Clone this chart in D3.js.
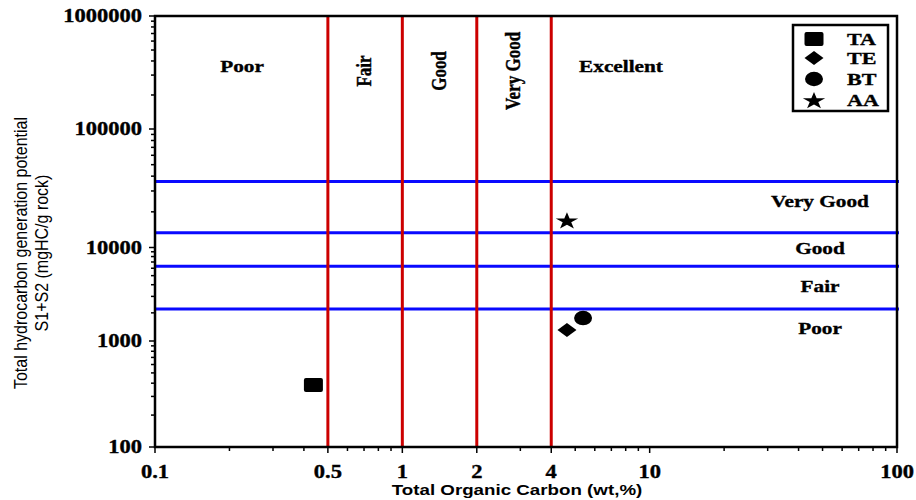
<!DOCTYPE html>
<html>
<head>
<meta charset="utf-8">
<script src="https://cdn.jsdelivr.net/npm/d3@7"></script>
<style>
  html, body { margin: 0; padding: 0; background: #fff; }
  svg { display: block; }
  .serif { font-family: "Liberation Serif", "Times New Roman", serif; font-weight: bold; fill: #000; stroke: #000; stroke-width: 0.35; }
  .sans { font-family: "Liberation Sans", Arial, sans-serif; fill: #000; }
</style>
</head>
<body>
<svg id="chart" width="916" height="500"></svg>
<script>
// x axis: total organic carbon (wt %)
var xDomain = [0.1, 100];
var xTickLabels = [0.1, 0.5, 1, 2, 4, 10, 100];
var tocLimits = [0.5, 1, 2, 4];
var tocClasses = ['Poor', 'Fair', 'Good', 'Very Good', 'Excellent'];

// y axis: S1+S2 (the printed axis is not an even log scale, so each decade gets its own stop)
var yTickLabels = [100, 1000, 10000, 100000, 1000000];
var potentialLimits = [2200, 6300, 13300, 36000];
var potentialClasses = ['Poor', 'Fair', 'Good', 'Very Good'];

// samples
var sampleNames = ['TA', 'TE', 'BT', 'AA'];
var sampleToc = [0.437, 4.63, 5.38, 4.63];
var samplePotential = [385, 1310, 1760, 17000];
var sampleShapes = ['square', 'diamond', 'circle', 'star'];

var plotLeft = 155;
var plotRight = 897;
var plotTop = 16;
var plotBottom = 447;
// the scanned figure is stretched sideways, glyphs follow that
var stretch = 1.25;

var svg = d3.select('#chart');

var x = d3.scaleLog().domain(xDomain).range([plotLeft, plotRight]);
var y = d3.scaleLog().domain(yTickLabels).range([plotBottom, 341, 247.5, 129, plotTop]);


/**
 * Draws one marker shape centred at the origin of the given group.
 * @param {d3.Selection} g
 * @param {string} shape
 */
function drawShape(g, shape) {
  if (shape === 'square') {
    g.append('rect').attr('x', -9.5).attr('y', -7).attr('width', 19).attr('height', 14).attr('rx', 2);
  } else if (shape === 'diamond') {
    g.append('path').attr('d', 'M0,-7L9.5,0L0,7L-9.5,0Z');
  } else if (shape === 'circle') {
    g.append('ellipse').attr('rx', 9).attr('ry', 7.2);
  } else {
    g.append('path').
        attr('d', d3.symbol().type(d3.symbolStar).size(92)()).
        attr('transform', 'translate(0,1) scale(1.3,1)');
  }
  g.attr('fill', '#000');
}


/**
 * Adds stretched serif text.
 */
function serifText(px, py, str, size, anchor, rotate) {
  return svg.append('text').
      attr('class', 'serif').
      attr('transform', 'translate(' + px + ',' + py + ') scale(' + stretch + ',1)' + (rotate ? ' rotate(-90)' : '')).
      attr('text-anchor', anchor || 'middle').
      attr('font-size', size).
      text(str);
}

// ----- threshold lines -----
svg.append('g').selectAll('line').data(potentialLimits).join('line').
    attr('x1', plotLeft).attr('x2', plotRight + 2).
    attr('y1', function(d) { return y(d); }).attr('y2', function(d) { return y(d); }).
    attr('stroke', '#0a0aff').attr('stroke-width', 3);

svg.append('g').selectAll('line').data(tocLimits).join('line').
    attr('x1', function(d) { return x(d); }).attr('x2', function(d) { return x(d); }).
    attr('y1', plotTop).attr('y2', plotBottom).
    attr('stroke', '#cc0000').attr('stroke-width', 3);

// ----- frame and ticks -----
svg.append('rect').
    attr('x', plotLeft).attr('y', plotTop).attr('width', plotRight - plotLeft).attr('height', plotBottom - plotTop).
    attr('fill', 'none').attr('stroke', '#000').attr('stroke-width', 2.5);

var xTicks = x.ticks();
svg.append('g').selectAll('line').data(xTicks).join('line').
    attr('x1', function(d) { return x(d); }).attr('x2', function(d) { return x(d); }).
    attr('y1', plotBottom).
    attr('y2', function(d) { return plotBottom + (xTickLabels.indexOf(d) >= 0 ? 6 : 4); }).
    attr('stroke', '#000').attr('stroke-width', 1.5);

var yTicks = [];
yTickLabels.forEach(function(v, i) {
  yTicks.push(v);
  if (i < yTickLabels.length - 1) {
    for (var k = 2; k < 10; k++) {
      yTicks.push(v * k);
    }
  }
});
svg.append('g').selectAll('line').data(yTicks).join('line').
    attr('x1', function(d) { return plotLeft - (yTickLabels.indexOf(d) >= 0 ? 6 : 4); }).attr('x2', plotLeft).
    attr('y1', function(d) { return y(d); }).attr('y2', function(d) { return y(d); }).
    attr('stroke', '#000').attr('stroke-width', 1.5);

// tick labels
xTickLabels.forEach(function(d) {
  serifText(x(d), 478, String(d), 18, 'middle');
});
yTickLabels.forEach(function(d) {
  serifText(142, y(d) + 6, String(d), 18, 'end');
});

// ----- class labels -----
var tocEdges = [xDomain[0]].concat(tocLimits);
tocClasses.forEach(function(name, i) {
  var cx = i === 0 ? 242 : i === tocClasses.length - 1 ? 621 : (x(tocEdges[i]) + x(tocEdges[i + 1])) / 2 + 6;
  if (i === 0 || i === tocClasses.length - 1) {
    serifText(cx, 72, name, 17, 'middle');
  } else {
    serifText(cx, 71, name, 17, 'middle', true);
  }
});

var potentialEdges = [1000].concat(potentialLimits);
potentialClasses.forEach(function(name, i) {
  var mid = (y(potentialEdges[i]) + y(potentialEdges[i + 1])) / 2;
  var offs = [9.5, 4, 4, -0.5][i];
  serifText(820, mid + offs, name, 17, 'middle');
});

// ----- samples -----
sampleNames.forEach(function(name, i) {
  var g = svg.append('g').attr('transform', 'translate(' + x(sampleToc[i]) + ',' + y(samplePotential[i]) + ')');
  drawShape(g, sampleShapes[i]);
});

// ----- legend -----
var legend = svg.append('g').attr('transform', 'translate(793,25)');
legend.append('rect').attr('width', 95).attr('height', 86).
    attr('fill', '#fff').attr('stroke', '#000').attr('stroke-width', 2.5);
sampleNames.forEach(function(name, i) {
  var ry = [14, 33, 54, 75][i];
  var g = legend.append('g').attr('transform', 'translate(21,' + ry + ')');
  drawShape(g, sampleShapes[i]);
  legend.append('text').
      attr('class', 'serif').
      attr('transform', 'translate(54,' + (ry + 6) + ') scale(1.3,1)').
      attr('font-size', 17).
      text(name);
});

// ----- axis titles -----
svg.append('text').
    attr('class', 'sans').
    attr('transform', 'translate(517,495) scale(' + stretch + ',1)').
    attr('text-anchor', 'middle').
    attr('font-size', 15).attr('font-weight', 'bold').
    text('Total Organic Carbon (wt,%)');

svg.append('text').
    attr('class', 'sans').
    attr('transform', 'translate(27,253) scale(1.15,1) rotate(-90)').
    attr('text-anchor', 'middle').
    attr('font-size', 16).
    text('Total hydrocarbon generation potential');
svg.append('text').
    attr('class', 'sans').
    attr('transform', 'translate(48,253) scale(1.15,1) rotate(-90)').
    attr('text-anchor', 'middle').
    attr('font-size', 16).
    text('S1+S2 (mgHC/g rock)');
</script>
</body>
</html>
